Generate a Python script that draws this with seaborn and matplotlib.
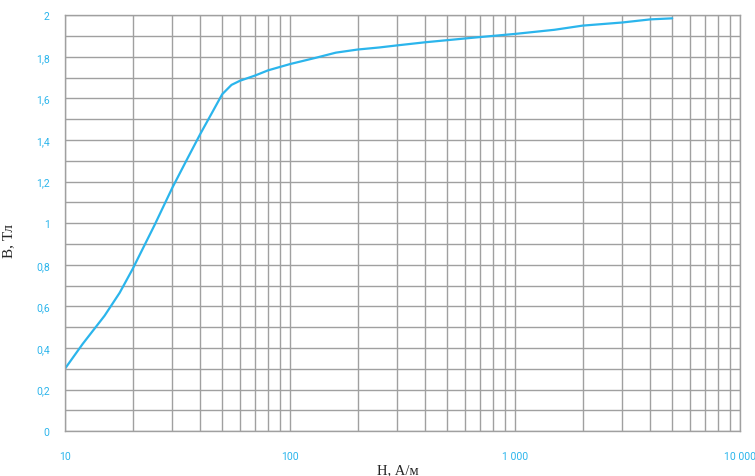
import pandas as pd
import matplotlib
matplotlib.use("Agg")
import matplotlib.pyplot as plt
import matplotlib.ticker as mticker
import seaborn as sns

# magnetization curve
H = [10, 12, 15, 17.5, 20, 25, 30, 35, 40, 45, 50, 55, 60, 70, 80,
     100, 130, 160, 200, 250, 300, 400, 500, 700, 1000, 1500, 2000, 3000, 4000, 5000]
B = [0.30, 0.42, 0.555, 0.665, 0.78, 0.99, 1.17, 1.31, 1.43, 1.53, 1.62, 1.665, 1.685, 1.71, 1.735,
     1.765, 1.795, 1.82, 1.835, 1.845, 1.855, 1.87, 1.88, 1.895, 1.91, 1.93, 1.95, 1.965, 1.98, 1.985]

x_ticks = [10, 100, 1000, 10000]
x_labels = ["10", "100", "1 000", "10 000"]
y_ticks = [0, 0.2, 0.4, 0.6, 0.8, 1, 1.2, 1.4, 1.6, 1.8, 2]
y_labels = ["0", "0,2", "0,4", "0,6", "0,8", "1", "1,2", "1,4", "1,6", "1,8", "2"]

curve = pd.DataFrame({"H": H, "B": B})

sns.set_style("white")
blue = "#2bb5ec"
grid = "#a0a0a0"

fig = plt.figure(figsize=(7.55, 4.77), dpi=100)
ax = fig.add_axes([0.086, 0.094, 0.894, 0.872])

sns.lineplot(data=curve, x="H", y="B", ax=ax, color=blue, linewidth=1.6)

ax.set_xscale("log")
ax.set_xlim(10, 10000)
ax.set_ylim(0, 2)

ax.xaxis.set_minor_locator(mticker.LogLocator(base=10, subs=range(2, 10)))
ax.xaxis.set_minor_formatter(mticker.NullFormatter())
ax.set_xticks(x_ticks)
ax.set_xticklabels(x_labels)
ax.set_yticks(y_ticks)
ax.set_yticklabels(y_labels)
ax.yaxis.set_minor_locator(mticker.MultipleLocator(0.1))

ax.grid(True, which="both", color=grid, linewidth=1.0)
ax.set_axisbelow(True)
for s in ax.spines.values():
    s.set_color(grid)
    s.set_linewidth(1.0)

ax.tick_params(axis="x", which="major", length=5, color=grid, pad=9,
               labelcolor=blue, labelsize=7.5)
ax.tick_params(axis="x", which="minor", length=0)
ax.tick_params(axis="y", which="major", length=4, color=grid, pad=7,
               labelcolor=blue, labelsize=7.5)
ax.tick_params(axis="y", which="minor", length=0)
for lab in ax.get_xticklabels() + ax.get_yticklabels():
    lab.set_family(["Roboto", "DejaVu Sans"])

serif = ["Liberation Serif", "DejaVu Serif"]
ax.set_xlabel("H, А/м", family=serif, fontsize=10.5)
ax.set_ylabel("B, Тл", family=serif, fontsize=11)
ax.xaxis.set_label_coords(0.493, -0.077)
ax.yaxis.set_label_coords(-0.074, 0.46)

fig.savefig("out.png", dpi=100)
